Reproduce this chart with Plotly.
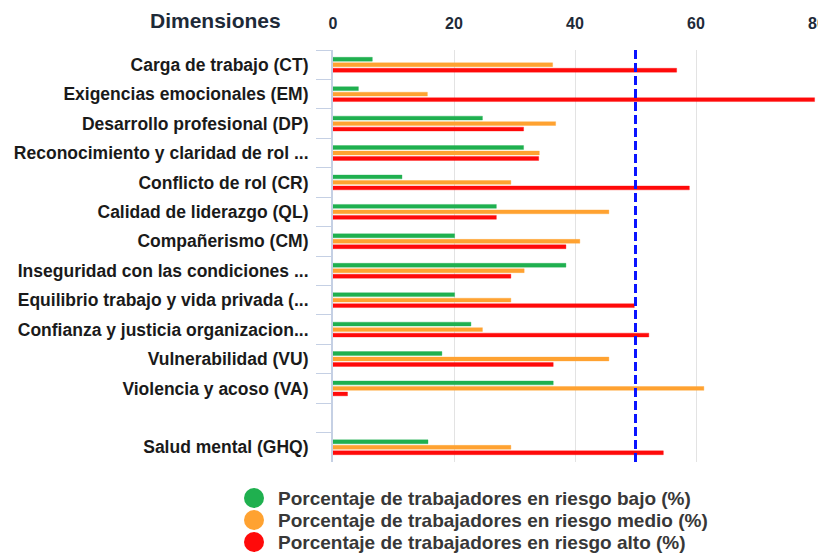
import plotly.graph_objects as go

# =========================
# data
# =========================
dimensiones = [
    "Carga de trabajo (CT)",
    "Exigencias emocionales (EM)",
    "Desarrollo profesional (DP)",
    "Reconocimiento y claridad de rol ...",
    "Conflicto de rol (CR)",
    "Calidad de liderazgo (QL)",
    "Compañerismo (CM)",
    "Inseguridad con las condiciones ...",
    "Equilibrio trabajo y vida privada (...",
    "Confianza y justicia organizacion...",
    "Vulnerabilidad (VU)",
    "Violencia y acoso (VA)",
    " ",
    "Salud mental (GHQ)",
]

riesgo_bajo = [6.5, 4.2, 24.7, 31.5, 11.4, 27.0, 20.1, 38.5, 20.1, 22.8, 18.0, 36.4, None, 15.7]
riesgo_medio = [36.3, 15.6, 36.8, 34.1, 29.4, 45.6, 40.8, 31.6, 29.4, 24.7, 45.6, 61.3, None, 29.4]
riesgo_alto = [56.8, 79.6, 31.5, 34.0, 58.9, 27.0, 38.5, 29.4, 49.8, 52.2, 36.4, 2.4, None, 54.6]

umbral = 50

series = [
    ("Porcentaje de trabajadores en riesgo bajo (%)", riesgo_bajo, "#1fb04f", "rgba(31,176,79,0.35)"),
    ("Porcentaje de trabajadores en riesgo medio (%)", riesgo_medio, "#ffa231", "rgba(255,162,49,0.35)"),
    ("Porcentaje de trabajadores en riesgo alto (%)", riesgo_alto, "#ff0a0a", "rgba(255,10,10,0.35)"),
]

FONT = "Arial, Liberation Sans, sans-serif"

# la página añade 8px de margen al body -> figura 8px más pequeña
OFF = 8
W, H = 826 - OFF, 553 - OFF
ML, MR, MT, MB = 333 - OFF, 9, 50 - OFF, 91
PW, PH = W - ML - MR, H - MT - MB


def px_x(px):
    # px en coordenadas de pantalla -> paper
    return (px - OFF - ML) / PW


def px_y(py):
    return (H - MB - (py - OFF)) / PH


fig = go.Figure()

for name, vals, color, glow in series:
    fig.add_trace(go.Bar(
        y=dimensiones, x=vals, orientation="h",
        marker=dict(color=color, line=dict(color=glow, width=1)),
        name=name, showlegend=False,
    ))

# línea de referencia
fig.add_shape(
    type="line", xref="x", yref="paper",
    x0=umbral, x1=umbral, y0=0, y1=1,
    line=dict(color="#0a14ff", width=3, dash="9px,4px"),
)

fig.add_annotation(
    text="Dimensiones", xref="paper", yref="paper",
    x=px_x(215), y=px_y(20), xanchor="center", yanchor="middle",
    showarrow=False, font=dict(size=21, color="#1e2a38", family=FONT, weight="bold"),
)

# leyenda (círculos + texto) debajo del gráfico
for i, (name, vals, color, glow) in enumerate(series):
    yy = px_y(498 + 22 * i)
    fig.add_shape(
        type="circle", xref="paper", yref="paper",
        xsizemode="pixel", ysizemode="pixel",
        xanchor=px_x(254), yanchor=yy,
        x0=-10, x1=10, y0=-10, y1=10,
        fillcolor=color, line=dict(width=0),
    )
    fig.add_annotation(
        text=name, xref="paper", yref="paper",
        x=px_x(276), y=yy, xanchor="left", yanchor="middle",
        showarrow=False,
        font=dict(size=19, color="#383838", family=FONT, weight="bold"),
    )

fig.update_layout(
    width=W, height=H,
    margin=dict(l=ML, r=MR, t=MT, b=MB),
    plot_bgcolor="white", paper_bgcolor="white",
    barmode="group", bargap=0.44, bargroupgap=0.3,
    font=dict(family=FONT),
    showlegend=False,
    xaxis=dict(
        side="top", range=[0, 80], tickvals=[0, 20, 40, 60, 80],
        tickfont=dict(size=16, color="#1e2a38", weight="bold"),
        ticklabelstandoff=17,
        showgrid=True, gridcolor="#e3e3e3", gridwidth=1,
        zeroline=False, showline=False, ticks="",
        automargin=False,
    ),
    yaxis=dict(
        type="category", categoryorder="array", categoryarray=dimensiones,
        autorange="reversed",
        tickfont=dict(size=17.5, color="#1a1a1a", weight="bold"),
        ticks="outside", tickson="boundaries", ticklen=15, tickcolor="#c5d0e4",
        ticklabelstandoff=19,
        showline=True, linecolor="#c5d0e4", linewidth=2,
        showgrid=False, zeroline=False,
        automargin=False,
    ),
)

fig.write_html("out.html")
